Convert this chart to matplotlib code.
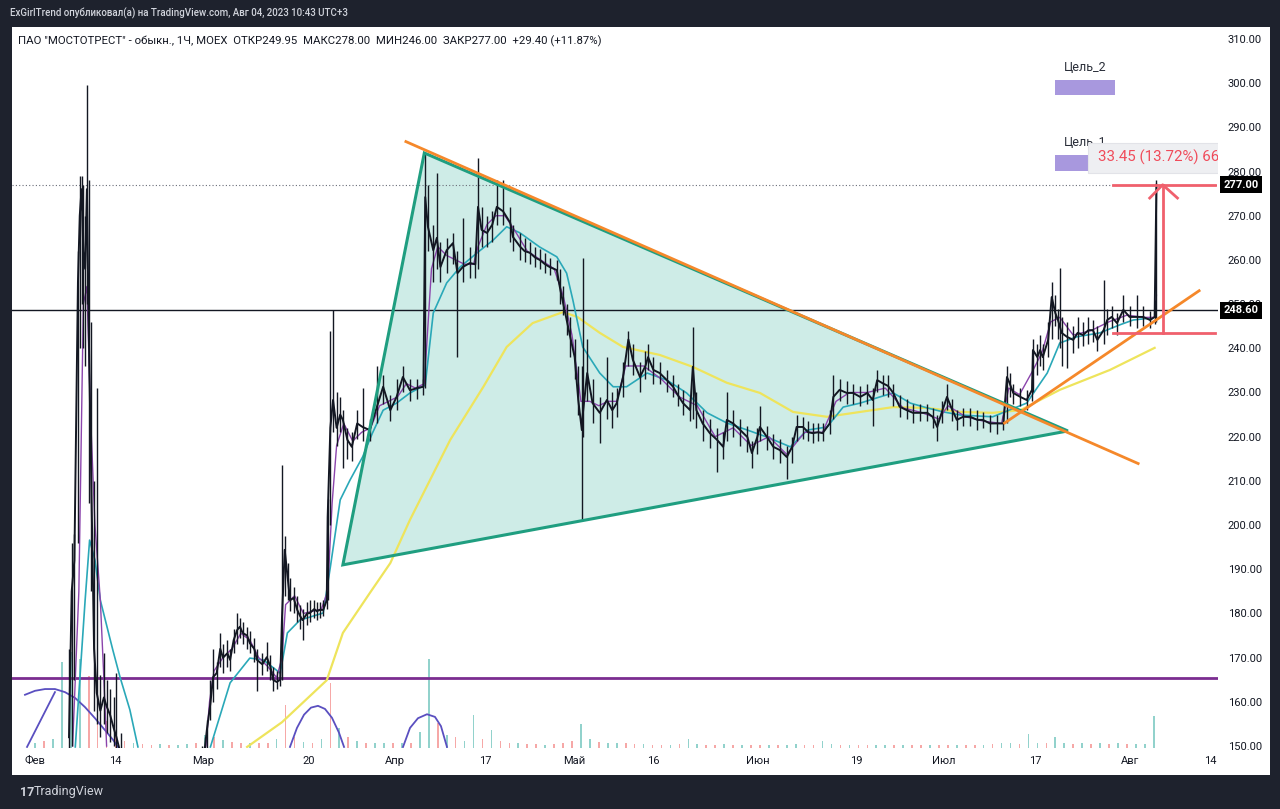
import matplotlib
matplotlib.use("Agg")
import matplotlib.pyplot as plt
from matplotlib.patches import Rectangle, Polygon

plt.rcParams['font.family'] = ['Roboto', 'DejaVu Sans']

# ---------------- data (x = trading-day index, 0 = 1 Feb 2023) ----------------
tick_pos = [0, 8.94, 18.77, 30.61, 40.22, 50.28, 60.22, 69.05, 80.78, 91.73, 101.56, 111.73, 122.35, 131.28]
tick_lab = ["Фев", "14", "Мар", "20", "Апр", "17", "Май", "16", "Июн", "19", "Июл", "17", "Авг", "14"]
price_ticks = [150, 160, 170, 180, 190, 200, 210, 220, 230, 240, 250, 260, 270, 280, 290, 300, 310]

bar_day = [3.8, 4.1, 4.4, 4.8, 5.0, 5.2, 5.4, 5.6, 5.8, 6.0, 6.3, 6.6, 6.9, 7.3, 7.7, 8.0, 8.4, 8.8, 9.1, 9.6,
           10.5, 12.0, 14.0, 16.0, 18.0, 18.7,
           19.0, 19.2, 19.6, 19.9, 20.3, 20.7, 21.0, 21.5, 21.8, 22.2, 22.6, 22.9, 23.2, 23.7, 24.0, 24.5, 24.8,
           25.4, 25.9, 26.3, 26.6, 27.0, 27.4, 27.6, 27.9, 28.3, 28.5, 28.9, 29.3, 29.6, 29.9, 30.4, 30.7, 31.2,
           31.5, 31.8, 32.2, 32.6, 32.7, 33.0, 33.3, 33.7, 34.1, 34.4, 34.9, 35.4, 36.0, 36.6, 37.4, 38.2, 38.9,
           39.7, 40.4, 41.1, 41.9, 42.7, 43.4, 43.6, 43.9, 44.5, 44.9, 45.3, 46.0, 46.7, 47.2, 47.8, 48.6, 49.2,
           49.5, 49.9, 50.5, 51.1, 51.6, 52.3, 53.1, 53.4, 54.2, 54.7, 55.3, 55.9, 56.4, 57.0, 57.5, 58.3, 58.7,
           59.0, 59.4, 59.8, 60.3, 60.7, 61.1, 61.2, 61.7, 62.3, 63.1, 63.9, 64.5, 65.0, 65.7, 66.3, 66.8, 67.6,
           68.2, 68.5, 69.1, 69.8, 70.6, 71.3, 71.8, 72.4, 73.2, 73.5, 73.9, 74.6, 75.4, 76.2, 76.9, 77.3, 78.0,
           78.8, 79.6, 80.1, 80.7, 81.0, 81.8, 82.5, 83.2, 84.0, 84.6, 85.1, 85.8, 86.4, 86.9, 87.5, 88.0, 88.8,
           89.2, 89.9, 90.7, 91.4, 92.2, 93.0, 93.6, 94.1, 94.7, 95.3, 95.9, 96.6, 97.4, 98.1, 98.9, 99.7, 100.3,
           100.8, 101.3, 101.9, 102.5, 103.0, 103.7, 104.5, 105.3, 105.9, 106.7, 107.5, 108.2, 108.6, 108.9,
           109.3, 110.1, 110.8, 111.4, 111.5, 112.0, 112.3, 112.6, 113.2, 113.6, 114.0, 114.3, 114.5, 114.7,
           115.3, 116.0, 116.5, 117.1, 117.7, 118.2, 118.7, 119.4, 119.8, 120.3, 120.9, 121.6, 122.3, 123.1,
           123.8, 124.6, 125.1, 125.3]
bar_close = [152, 185, 192, 255, 270, 276, 262, 258, 276, 245, 208, 172, 162, 158, 161, 159, 157, 154, 152, 148,
             144, 142, 141, 142, 143, 146,
             150, 153.6, 159.7, 165.6, 166.5, 172, 170, 171, 169.5, 174, 176.3, 177, 175.6, 175, 173.3, 172, 169.5,
             168.5, 170.1, 168, 165, 164.5, 165, 179.2, 194.4, 186.9, 183, 183.5, 180.8, 179.5, 178.5, 180, 180.1, 181,
             180.5, 180.8, 180.8, 183, 201.8, 222, 228.3, 222, 225, 223.8, 219.3, 217.7, 223, 222.2, 221.5, 226.7, 231.3,
             226, 229, 233.5, 230.5, 231, 231.3, 274.2, 267.5, 262.2, 265, 258.4, 262.2, 263.8, 257, 258.4, 259.3, 259,
             272, 266.8, 266.1, 268, 272, 271, 268.4, 265.2, 263, 262, 261.6, 260.5, 260, 259, 258.4, 257.7, 253.2,
             250.3, 246.4, 242.6, 238, 228.3, 221.5, 225, 234.4, 227.6, 225.4, 228.3, 226, 227.6, 233.5, 242, 237.4, 233.5,
             236, 238, 235.1, 234.4, 232.8, 231.3, 229.5, 227.6, 226, 235.8, 226, 223, 220.8, 219.3, 217.7, 223.8, 223,
             221.5, 219.9, 216.3, 219.9, 222.2, 219.9, 217.7, 217, 215.4, 217.7, 222.2, 222.2, 221, 220.8, 221, 220.8, 223,
             229, 230.6, 229.9, 229.9, 229, 229.9, 228.3, 232.8, 232.1, 231.5, 229.9, 226.8, 226, 225.4, 225.4, 225.4, 224.5,
             222.2, 225.4, 229, 226, 223.8, 224.5, 224.5, 223.8, 223.8, 223, 223, 223, 233.5, 232.1,
             229.9, 229, 228.3, 230.6, 239.6, 238, 239.6, 238, 241.9, 251.6, 248, 246.4, 245, 243.5,
             242.6, 241.9, 243.5, 243, 244.1, 244.1, 241.9, 244.1, 246.4, 247.1, 245.7, 248.7, 247.1, 247.1,
             247.1, 246.4, 247.1, 277]
bar_high = [172, 196, 198, 262, 279, 279, 277, 270, 299.5, 278, 246, 210, 231, 166, 171, 165, 163, 161, 166.5, 153,
            147, 145, 144, 145, 147, 150,
            152, 156, 165, 172, 169, 175.6, 173, 174, 172, 176.5, 180, 179, 178, 177, 176, 174.5, 172,
            171, 173.5, 170.5, 168, 167, 167, 213.5, 197.5, 191.5, 188, 186, 184, 182, 181, 182.5, 183, 183,
            182.5, 182.5, 183, 185, 206, 244, 248.7, 230, 229, 226, 222, 221, 226, 231, 224, 236, 234,
            229.5, 233, 236, 233, 233, 233, 284.2, 277, 268, 279.7, 264, 265, 266, 262, 269.5, 263, 262,
            283, 272, 270, 271, 278, 278, 272, 268, 266, 265, 264, 263, 262.5, 261.5, 260.5, 260, 258,
            254, 250, 247, 242, 236, 236, 260.4, 242, 233, 229, 238, 230, 231, 237, 244, 241, 237,
            239.5, 241, 238, 237, 235, 234, 232, 230.5, 229, 244.8, 230, 226, 224, 222, 221, 230, 226,
            224, 222.5, 219, 222, 227, 222.5, 220.5, 219.5, 218, 220, 225, 224.5, 223.5, 223, 223, 223, 226,
            234, 233, 232.5, 232, 231.5, 232, 231, 235, 234, 234, 232, 229.5, 228.5, 227.5, 227.5, 227.5, 226.5,
            225, 228, 232, 228.5, 226, 226.5, 226.5, 226, 225.5, 225, 225, 225, 236, 234.5,
            232, 231, 230.5, 233, 242, 241, 243, 241, 246, 255, 252, 249, 258.2, 247,
            246, 245, 247, 246, 247, 246.5, 245, 255.5, 249, 249.5, 248, 252, 249.5, 252,
            249.5, 248.5, 251, 278]
bar_low = [146, 150, 165, 196, 240, 250, 240, 236, 250, 205, 185, 158, 155, 152, 155, 153, 151, 150, 148, 144,
           141, 139, 138, 139, 140, 142,
           146, 149, 156, 160, 163, 168, 166.5, 168, 167, 171, 173, 174.5, 173, 172, 171, 169, 162.5,
           166, 167, 165, 162.5, 163, 163.5, 165, 184, 183, 180.5, 180, 178, 176.5, 174, 177.5, 178, 179,
           178.5, 179, 179.5, 181, 183, 200, 221, 218, 221, 213, 215, 214.5, 219.5, 219, 219, 223, 227.5,
           223.5, 226, 230, 228, 228.5, 229.5, 231, 262, 255, 258, 255, 257, 259, 238, 255, 256, 256,
           258, 263, 263, 264, 268, 268, 264, 262, 260, 259.5, 259, 258.5, 258, 257, 256.5, 255.5, 250,
           247.5, 243, 238, 233, 225, 201, 220, 228, 223, 218.5, 224, 222, 224.5, 229, 236, 234, 230,
           233, 235, 232, 232, 230, 229, 227, 225, 223.5, 224, 222, 219, 217.5, 212, 215, 219, 220,
           218, 216.5, 213, 216, 219, 217, 215, 214, 210.5, 214, 219, 219.5, 219, 218.5, 219, 219, 220.5,
           224, 228, 227.5, 227.5, 227, 227.5, 222.5, 230, 229.5, 229, 227, 224.5, 224, 223, 223.5, 223.5, 222,
           219, 223, 226, 223.5, 221.5, 222.5, 222.5, 221.5, 222, 221, 220.5, 221.5, 223, 229,
           227.5, 227, 226, 228, 230, 234, 236, 235, 238, 242, 245, 242, 240, 236,
           235.5, 239, 240, 240.5, 241, 241.5, 239.5, 241, 243, 244.5, 243, 246, 245, 244.5,
           245, 244.5, 245.5, 246]

# fast MA (purple)
fma_day = [4.2, 4.9, 5.4, 5.8, 6.2, 6.7, 7.3, 7.7, 8.0]
fma_val = [150, 185, 250, 254, 225, 200, 183, 165, 150]
fma2_day = [19.1, 19.5, 20, 21, 22, 23, 24, 25, 26, 27, 27.6, 28, 29, 30, 31, 32, 32.7, 33.2, 33.7, 34.5, 35.5,
            36.5, 37.5, 38.5, 39.5, 40.5, 41.5, 42.5, 43.5, 43.9, 44.3, 45, 46, 47, 48, 49, 49.5, 50.5, 51.5, 52.5,
            53.5, 55, 56.5, 58, 59, 60, 61, 62, 63, 64, 65, 66, 67, 68, 70, 72, 74, 76, 78, 80, 82, 84, 86, 88,
            89.5, 91, 93, 95, 97, 99, 101, 102, 104, 106, 108, 108.8, 110, 111.5, 112.5, 113.5, 114.5, 116, 118,
            120, 122, 124, 125.1, 125.3]
fma2_val = [150, 160, 167, 170, 172, 175.5, 174, 170, 168, 165.5, 170, 182, 184, 180, 180.5, 181, 185, 205, 218, 223,
            219, 221, 222, 227, 228, 229, 232, 231, 232, 245, 258, 263, 261, 260, 259, 259, 263, 268, 270, 270,
            267, 262, 260, 258, 252, 243, 228, 228, 227, 228, 228, 236, 236, 236, 233, 229, 227, 220, 222, 218,
            220, 216, 221, 221, 228, 230, 230, 231, 226.5, 225.5, 224, 227, 224.5, 223.5, 223, 231, 229.5, 235,
            239, 246, 247, 243, 244, 246, 247.5, 247, 247, 252]

# slow MA (teal)
sma_day = [4.5, 5.0, 5.6, 6.1, 6.7, 7.3, 8.7, 9.5, 10.6, 11.5]
sma_val = [149.8, 164.9, 183.0, 196.6, 192.1, 183.0, 171.7, 165.6, 158.2, 149.8]
sma2_day = [19.6, 21.8, 24.0, 25.5, 27.4, 28.2, 29.6, 32.2, 33.0, 34.1, 35.2, 36.6, 37.7, 38.9, 40.4, 41.9, 43.6,
            44.5, 46.0, 47.5, 49.4, 51.2, 52.7, 54.2, 56.4, 58.3, 59.4, 60.1, 61.2, 63.1, 64.6, 66.1, 68.4, 70.6,
            72.8, 75.1, 77.3, 79.6, 81.8, 84.4, 86.3, 88.5, 90.3, 92.2, 94.4, 95.9, 97.8, 99.7, 101.5, 103.4,
            107.0, 109.7, 110.8, 113.1, 114.5, 116.4, 119.0, 121.2, 122.7, 124.9]
sma2_val = [149.8, 164.3, 169.9, 169.5, 166.5, 175.6, 178.5, 180.1, 190.5, 205.7, 210.2, 215.4, 220.8, 226.0, 227.6,
            229.9, 231.7, 248.0, 254.8, 258.4, 261.6, 264.5, 267.5, 266.1, 262.9, 260.7, 257.0, 250.9, 240.3, 234.4,
            231.3, 231.3, 234.4, 232.8, 229.9, 225.4, 223.1, 221.5, 219.9, 217.7, 221.5, 222.2, 226.7, 227.6, 229.0,
            229.9, 227.6, 226.5, 225.6, 224.9, 224.5, 226.7, 227.6, 234.4, 241.2, 242.6, 243.5, 245.3, 246.4, 246.9]

# long MA (yellow)
lma_day = [23.7, 27.6, 32.6, 34.4, 37.4, 39.7, 41.9, 46.4, 50.1, 52.7, 55.6, 59.0, 60.6, 63.1, 65.7, 69.8, 73.5,
           77.3, 81.0, 84.7, 88.5, 92.2, 95.9, 99.7, 103.4, 107.0, 110.1, 114.5, 120.1, 125.1]
lma_val = [149.8, 155.4, 164.9, 175.6, 184.6, 191.4, 201.2, 219.3, 231.3, 240.3, 245.7, 248.2, 247.1, 243.5, 240.3,
           238.5, 235.8, 232.2, 229.9, 225.6, 224.5, 225.6, 226.7, 226.5, 225.6, 225.4, 226.0, 230.6, 235.1, 240.1]

# oscillator arcs at the bottom (indicator, price-scale units)
arc1_day = [-1.12, 0, 1.12, 2.23, 3.35, 4.47, 5.59, 6.70, 7.82, 8.72, 9.27]
arc1_val = [161.6, 162.5, 162.9, 162.9, 162.2, 160.9, 158.8, 156.3, 153.6, 151.4, 149.8]
arc1b_day = [-0.89, 2.23]
arc1b_val = [149.8, 162.2]
arc2_day = [28.49, 29.27, 30.06, 30.84, 31.62, 32.40, 33.18, 33.97, 34.53]
arc2_val = [149.8, 154.1, 157.1, 158.7, 159.1, 158.4, 156.4, 153.0, 149.8]
arc3_day = [41.12, 41.9, 42.79, 43.8, 44.69, 45.36, 46.03]
arc3_val = [149.8, 154.1, 156.3, 157.2, 156.6, 154.5, 149.8]

# volume (thousands, per trading day)
vol = [6, 8, 10, 95, 107, 99, 80, 45, 30, 18, 8, 6, 4, 3, 4, 3, 3, 4, 5, 14,
       12, 9, 7, 6, 5, 5, 5, 10, 48, 12, 7, 6, 10, 72, 22, 12, 8, 6, 6, 5,
       6, 5, 6, 18, 99, 28, 14, 12, 8, 37, 10, 20, 8, 6, 5, 4, 4, 3, 4, 6,
       8, 27, 10, 7, 5, 6, 5, 4, 4, 3, 3, 3, 4, 10, 4, 3, 3, 4, 3, 3,
       3, 3, 3, 3, 3, 4, 3, 3, 8, 4, 3, 3, 3, 3, 3, 3, 3, 3, 3, 3,
       3, 3, 3, 3, 3, 3, 3, 4, 6, 5, 4, 15, 6, 5, 12, 6, 4, 5, 4, 6,
       4, 5, 4, 4, 4, 35]
vol_dir = ("uduuuudddd" "dudduduudu" "dudduddudd" "ududududuu" "duduududuu"
           "dudduddudd" "duuduuddud" "duduuddudu" "dduduudduu" "dudduududd"
           "uddudduduu" "duuduududu" "duduuu")

# drawings
tri_day = [34.4, 43.5, 115.4]
tri_val = [191.0, 284.2, 221.3]
down_day = [41.3, 123.4]
down_val = [286.9, 213.8]
up_day = [108.2, 130.2]
up_val = [222.9, 253.2]
meas_day = [120.4, 126.0, 131.8]
meas_low, meas_high = 243.55, 277.0
last_price, ref_price, support = 277.0, 248.6, 165.4
targets = [("Цель_2", 297.3, 300.7), ("Цель_1", 280.1, 283.75)]
target_day = [113.97, 120.67]

# ---------------- figure ----------------
W, H = 1280, 809
fig = plt.figure(figsize=(12.8, 8.09), dpi=100)
fig.patch.set_facecolor('#1e222d')

def fx(px):
    return px / W

def fy(py):
    return 1 - py / H

fig.patches.append(Rectangle((fx(12), fy(775)), fx(1270) - fx(12), fy(27) - fy(775),
                             transform=fig.transFigure, facecolor='white', edgecolor='none', zorder=-10))

ax = fig.add_axes([fx(12), fy(748), fx(1218) - fx(12), fy(27) - fy(748)])
axv = ax.twinx()
axv.set_zorder(ax.get_zorder() - 1)
ax.patch.set_visible(False)
axv.set_axis_off()

xmin, xmax = -2.57, 132.18
ax.set_xlim(xmin, xmax)
ax.set_ylim(149.56, 312.7)
axv.set_xlim(xmin, xmax)
axv.set_ylim(0, 800)

# volume
up_c, dn_c = '#26a69a', '#ef5350'
for i, (v, d) in enumerate(zip(vol, vol_dir)):
    axv.bar(i, v, width=0.18, color=up_c if d == 'u' else dn_c, alpha=0.5, linewidth=0)

# triangle
ax.add_patch(Polygon(list(zip(tri_day, tri_val)), closed=True, facecolor='#22ab94', alpha=0.22,
                     edgecolor='none', zorder=1))
ax.add_patch(Polygon(list(zip(tri_day, tri_val)), closed=True, facecolor='none',
                     edgecolor='#1f9e80', linewidth=2.2, zorder=5))

# support / reference lines
ax.axhline(support, color='#7b2d90', linewidth=2, zorder=2)
ax.axhline(ref_price, color='#131722', linewidth=1, zorder=2)
ax.axhline(last_price, color='#6a6d78', linewidth=0.8, linestyle=(0, (1, 2)), zorder=2)

# moving averages
ax.plot(lma_day, lma_val, color='#eee45c', linewidth=1.6, zorder=2.5)
ax.plot(sma_day, sma_val, color='#2aa8b8', linewidth=1.2, zorder=2.6)
ax.plot(sma2_day, sma2_val, color='#2aa8b8', linewidth=1.2, zorder=2.6)
ax.plot(fma_day, fma_val, color='#8b44ac', linewidth=1.0, zorder=2.7)
ax.plot(fma2_day, fma2_val, color='#8b44ac', linewidth=1.0, zorder=2.7)

# arcs
arc_c = '#5a4fc0'
for xd, yd in [(arc1_day, arc1_val), (arc1b_day, arc1b_val), (arc2_day, arc2_val), (arc3_day, arc3_val)]:
    ax.plot(xd, yd, color=arc_c, linewidth=1.3, zorder=2.4)

# price
ax.vlines(bar_day, bar_low, bar_high, color='#131722', linewidth=1.0, zorder=3)
ax.plot(bar_day, bar_close, color='#131722', linewidth=1.4, zorder=3)

# trend lines
ax.plot(down_day, down_val, color='#f5882a', linewidth=2, zorder=6, solid_capstyle='butt')
ax.plot(up_day, up_val, color='#f5882a', linewidth=2, zorder=6, solid_capstyle='butt')

# targets
for (lab, lo, hi) in targets:
    ax.add_patch(Rectangle((target_day[0], lo), target_day[1] - target_day[0], hi - lo,
                           facecolor='#a898de', edgecolor='none', zorder=4))
    ax.text((target_day[0] + target_day[1]) / 2, hi + 2.9, lab, ha='center', va='center',
            fontsize=9, color='#2a2e39', zorder=4)

# measure tool
mc = '#f0606d'
ax.plot([meas_day[0], meas_day[2]], [meas_high, meas_high], color=mc, linewidth=2, zorder=7)
ax.plot([meas_day[0], meas_day[2]], [meas_low, meas_low], color=mc, linewidth=2, zorder=7)
ax.plot([meas_day[1], meas_day[1]], [meas_low, meas_high], color=mc, linewidth=2, zorder=7)
ax.plot([meas_day[1] - 1.45, meas_day[1], meas_day[1] + 1.65], [meas_high - 3.0, meas_high, meas_high - 3.0],
        color=mc, linewidth=2, zorder=7)
ax.add_patch(Rectangle((117.6, 279.7), 16, 6.8, facecolor='#eeeff2', edgecolor='#e2e3e8', linewidth=0.8, zorder=8))
t = ax.text(118.8, 283.1, "33.45 (13.72%) 6645", fontsize=10.8, color='#f04b5a', va='center', ha='left', zorder=9)
t.set_clip_on(True)

# axes styling
for s in ax.spines.values():
    s.set_visible(False)
ax.yaxis.tick_right()
ax.set_yticks(price_ticks)
ax.set_yticklabels([f"{v:.2f}" for v in price_ticks])
ax.tick_params(axis='y', length=0, pad=7, labelsize=8, labelcolor='#131722')
ax.set_xticks(tick_pos)
ax.set_xticklabels(tick_lab)
ax.tick_params(axis='x', length=0, pad=6, labelsize=8, labelcolor='#131722')

for val in (last_price, ref_price):
    ax.annotate(f"{val:.2f}", xy=(1, val), xycoords=ax.get_yaxis_transform(), xytext=(4, 0),
                textcoords='offset points', ha='left', va='center', color='white', fontsize=8,
                fontweight='bold', bbox=dict(boxstyle='square,pad=0.3', fc='black', ec='none'),
                zorder=10, annotation_clip=False)

# header texts
fig.text(fx(10), fy(13), "ExGirlTrend опубликовал(а) на TradingView.com, Авг 04, 2023 10:43 UTC+3",
         fontsize=7, color='#d1d4dc', va='center', ha='left', fontweight='medium')
fig.text(fx(18), fy(41), 'ПАО "МОСТОТРЕСТ" - обыкн., 1Ч, MOEX  ОТКР249.95  МАКС278.00  МИН246.00  ЗАКР277.00  +29.40 (+11.87%)',
         fontsize=8.2, color='#131722', va='center', ha='left')
fig.text(fx(20), fy(792), "17", fontsize=9, color='#d1d4dc', va='center', ha='left', fontweight='bold')
fig.text(fx(34), fy(792), "TradingView", fontsize=9, color='#d1d4dc', va='center', ha='left')

fig.savefig('out.png', dpi=100, facecolor=fig.get_facecolor())
